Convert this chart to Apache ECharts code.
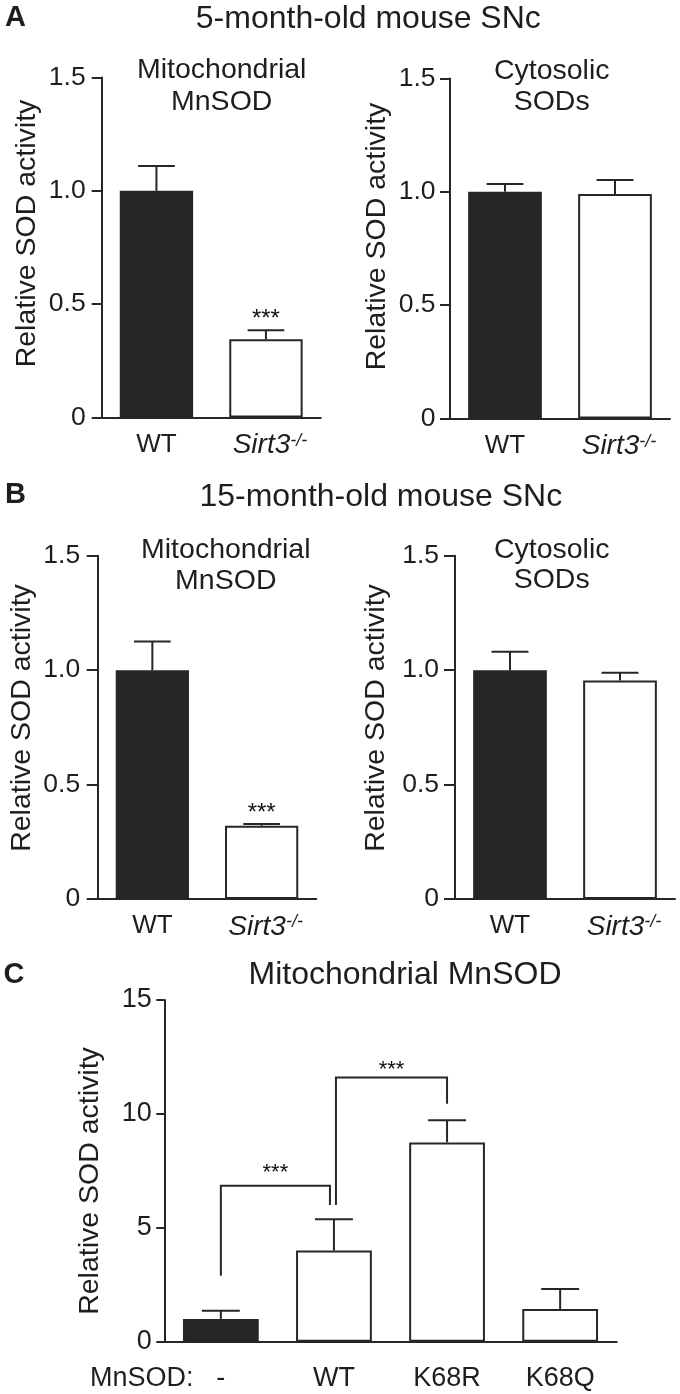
<!DOCTYPE html>
<html><head><meta charset="utf-8">
<script src="https://cdn.jsdelivr.net/npm/echarts@6/dist/echarts.min.js"></script>
<style>html,body{margin:0;padding:0;background:#fff}#chart{width:680px;height:1394px}</style>
</head><body><div id="chart"></div>
<script>
// ---------------- data ----------------
const groupsAB = ['WT', 'Sirt3-/-'];
const mito5Mean = [1.0, 0.345];
const mito5Err = [0.11, 0.04];
const cyto5Mean = [1.0, 0.99];
const cyto5Err = [0.035, 0.062];
const mito15Mean = [1.0, 0.32];
const mito15Err = [0.125, 0.008];
const cyto15Mean = [1.0, 0.955];
const cyto15Err = [0.08, 0.034];
const sigMito5 = ['', '***'];
const sigCyto5 = ['', ''];
const sigMito15 = ['', '***'];
const sigCyto15 = ['', ''];
const groupsC = ['-', 'WT', 'K68R', 'K68Q'];
const mnsodMean = [1.0, 4.0, 8.75, 1.43];
const mnsodErr = [0.36, 1.37, 0.97, 0.88];
// significance brackets in panel C (category indices and y values)
const bracketFrom = [0, 1];
const bracketTo = [1, 2];
const bracketLeftEnd = [2.9, 6.0];
const bracketTop = [6.85, 11.6];
const bracketRightEnd = [6.0, 10.45];
const bracketLabels = ['***', '***'];
// tick labels
const yTicksAB = [0, 0.5, 1.0, 1.5];
const yTickLabelsAB = ['0', '0.5', '1.0', '1.5'];
const yTicksC = [0, 5, 10, 15];
const yTickLabelsC = ['0', '5', '10', '15'];

// ---------------- style ----------------
const FONT = "'Liberation Sans', Arial, Helvetica, sans-serif";
const INK = '#262626';
const TXT = '#1e1e1e';
const blackBar = {color: INK, borderColor: INK, borderWidth: 2};
const whiteBar = {color: '#fff', borderColor: INK, borderWidth: 2};

const grids = [
  {left: 101.7, top: 77.5, width: 219, height: 340},
  {left: 450, top: 78.5, width: 220, height: 340},
  {left: 97.7, top: 555.7, width: 218.6, height: 343.3},
  {left: 455, top: 555.7, width: 220, height: 343.3},
  {left: 164.3, top: 1000, width: 452.4, height: 341.7}
];
const yTickLen = [10, 10, 11, 11, 8];
const yLabelMargin = [16, 14.5, 17.5, 16, 12.5];

function tickFmt(ticks, labels) {
  return v => { const i = ticks.findIndex(t => Math.abs(t - v) < 1e-9); return i >= 0 ? labels[i] : ''; };
}
function xFmt(v) {
  const m = v.match(/^(.+?)(-\/-)$/);
  return m ? '{i|' + m[1] + '}{s|' + m[2] + '}' : v;
}

const xAxes = [], yAxes = [];
for (let g = 0; g < 5; g++) {
  const isC = g === 4;
  xAxes.push({
    gridIndex: g, type: 'category', data: isC ? groupsC : groupsAB,
    axisLine: {lineStyle: {color: INK, width: 2}},
    axisTick: {alignWithLabel: true, length: isC ? 10 : 9, lineStyle: {color: INK, width: 2}},
    axisLabel: {
      interval: 0, hideOverlap: false,
      color: TXT, fontFamily: FONT, fontSize: isC ? 27 : 26, margin: isC ? 23 : 14,
      formatter: xFmt,
      rich: {
        i: {fontStyle: 'italic', fontSize: 28, fontFamily: FONT, color: TXT, padding: [0, 0, 0, 8]},
        s: {fontStyle: 'italic', fontSize: 18, fontFamily: FONT, color: TXT, verticalAlign: 'top'}
      }
    },
    splitLine: {show: false}
  });
  yAxes.push({
    gridIndex: g, type: 'value', min: 0, max: isC ? 15 : 1.5, interval: isC ? 5 : 0.5,
    axisLine: {show: true, lineStyle: {color: INK, width: 2}},
    axisTick: {show: true, length: yTickLen[g], lineStyle: {color: INK, width: 2}},
    axisLabel: {color: TXT, fontFamily: FONT, fontSize: isC ? 27 : 26.5, margin: yLabelMargin[g],
      formatter: isC ? tickFmt(yTicksC, yTickLabelsC) : tickFmt(yTicksAB, yTickLabelsAB)},
    splitLine: {show: false}
  });
}

function errRenderer(sig, capFrac, sigOffset, sigSize) {
  return function (params, api) {
    const x = api.value(0), m = api.value(1), e = api.value(2);
    const base = api.coord([x, m]);
    const top = api.coord([x, m + e]);
    const half = api.size([1, 0])[0] * capFrac / 2;
    const st = {stroke: INK, lineWidth: 2};
    const children = [
      {type: 'line', shape: {x1: base[0], y1: base[1], x2: top[0], y2: top[1]}, style: st},
      {type: 'line', shape: {x1: top[0] - half, y1: top[1], x2: top[0] + half, y2: top[1]}, style: st}
    ];
    const s = sig ? sig[params.dataIndex] : '';
    if (s) {
      children.push({type: 'text', x: top[0], y: top[1] - sigOffset,
        style: {text: s, fill: '#111', font: sigSize + 'px ' + FONT,
          textAlign: 'center', textVerticalAlign: 'middle', align: 'center', verticalAlign: 'middle'}});
    }
    return {type: 'group', children: children};
  };
}

const series = [];
function addPanel(g, means, errs, sig, blackIdx) {
  series.push({
    type: 'bar', xAxisIndex: g, yAxisIndex: g, barWidth: '67%', silent: true,
    data: means.map((v, i) => ({value: v, itemStyle: blackIdx.includes(i) ? blackBar : whiteBar}))
  });
  series.push({
    type: 'custom', xAxisIndex: g, yAxisIndex: g, silent: true, z: 5,
    data: means.map((m, i) => [i, m, errs[i]]),
    renderItem: errRenderer(sig, 0.335, 11, 24)
  });
}
addPanel(0, mito5Mean, mito5Err, sigMito5, [0]);
addPanel(1, cyto5Mean, cyto5Err, sigCyto5, [0]);
addPanel(2, mito15Mean, mito15Err, sigMito15, [0]);
addPanel(3, cyto15Mean, cyto15Err, sigCyto15, [0]);
addPanel(4, mnsodMean, mnsodErr, null, [0]);

// brackets in panel C
const bracketXOffset = [[0, -4], [2, 0]];
const bracketLabelGap = [13, 8];
series.push({
  type: 'custom', xAxisIndex: 4, yAxisIndex: 4, silent: true, z: 6,
  data: bracketFrom.map((f, i) => [f, bracketTo[i], bracketLeftEnd[i], bracketTop[i], bracketRightEnd[i]]),
  renderItem: function (params, api) {
    const i = params.dataIndex;
    const a = api.coord([api.value(0), api.value(2)]);
    const at = api.coord([api.value(0), api.value(3)]);
    const bt = api.coord([api.value(1), api.value(3)]);
    const b = api.coord([api.value(1), api.value(4)]);
    const xl = a[0] + bracketXOffset[i][0], xr = b[0] + bracketXOffset[i][1];
    return {type: 'group', children: [
      {type: 'polyline', shape: {points: [[xl, a[1]], [xl, at[1]], [xr, bt[1]], [xr, b[1]]]},
        style: {stroke: INK, lineWidth: 2, fill: null}},
      {type: 'text', x: (xl + xr) / 2, y: at[1] - bracketLabelGap[i],
        style: {text: bracketLabels[i], fill: '#111', font: '22px ' + FONT,
          textAlign: 'center', textVerticalAlign: 'middle', align: 'center', verticalAlign: 'middle'}}
    ]};
  }
});

function txt(text, x, y, size, opts) {
  opts = opts || {};
  return {type: 'text', x: x, y: y, rotation: opts.rot || 0, silent: true,
    style: {text: text, fill: TXT, font: (opts.bold ? 'bold ' : '') + size + 'px ' + FONT,
      textAlign: 'center', textVerticalAlign: 'middle', align: 'center', verticalAlign: 'middle'}};
}
const R = Math.PI / 2;
const graphics = [
  txt('A', 15.5, 18, 29, {bold: true}),
  txt('B', 15.5, 495, 29, {bold: true}),
  txt('C', 14, 975, 29, {bold: true}),
  txt('5-month-old mouse SNc', 368.3, 19, 32),
  txt('15-month-old mouse SNc', 380.8, 497, 32),
  txt('Mitochondrial MnSOD', 405, 975, 32),
  txt('Mitochondrial', 221.7, 70, 28.5),
  txt('MnSOD', 221.7, 101.7, 28.5),
  txt('Cytosolic', 551.7, 71.5, 28.5),
  txt('SODs', 551.7, 101.7, 28.5),
  txt('Mitochondrial', 225.8, 550, 28.5),
  txt('MnSOD', 225.8, 581.5, 28.5),
  txt('Cytosolic', 551.7, 550, 28.5),
  txt('SODs', 551.7, 580, 28.5),
  txt('Relative SOD activity', 27, 233.5, 28.5, {rot: R}),
  txt('Relative SOD activity', 377, 236.5, 28.5, {rot: R}),
  txt('Relative SOD activity', 22, 718, 28.5, {rot: R}),
  txt('Relative SOD activity', 376, 718, 28.5, {rot: R}),
  txt('Relative SOD activity', 90, 1181, 28.5, {rot: R}),
  txt('MnSOD:', 141.7, 1379, 27)
];

const chart = echarts.init(document.getElementById('chart'), null, {renderer: 'canvas'});
chart.setOption({
  animation: false,
  backgroundColor: '#fff',
  textStyle: {fontFamily: FONT},
  grid: grids.map(g => Object.assign({containLabel: false}, g)),
  xAxis: xAxes,
  yAxis: yAxes,
  series: series,
  graphic: {elements: graphics}
});
</script>
</body></html>
